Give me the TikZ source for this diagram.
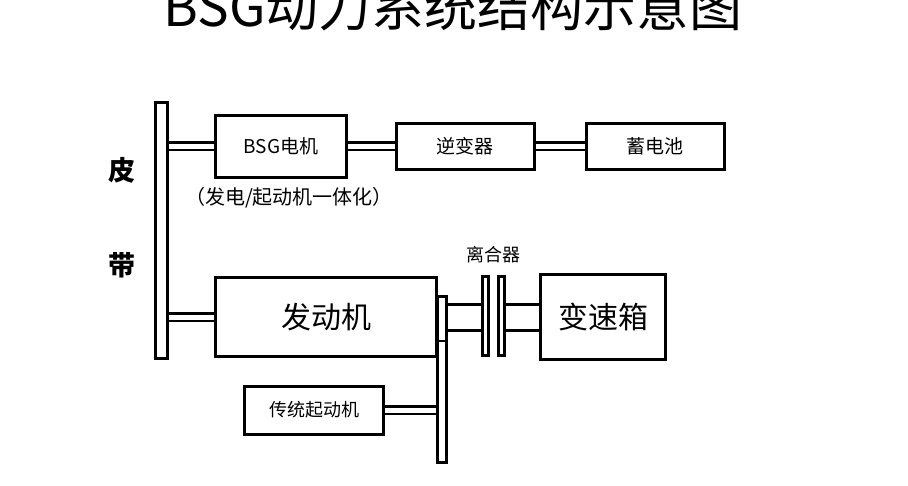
\documentclass[tikz,border=0pt]{standalone}
\usepackage{fontspec}
\setmainfont{Noto Sans CJK SC}
\begin{document}
\begin{tikzpicture}[x=1pt,y=-1pt,
	box/.style = {draw, line width=3pt, inner sep=0pt},
	shaft/.style = {double, double distance=5pt, line width=2.5pt}]
	\useasboundingbox (0,0) rectangle (908,485);
	% title, cut off at the top
	\node[font=\fontsize{53}{53}\selectfont] (title) at (453,6) {BSG动力系统结构示意图};
	\node[box, minimum width=12, minimum height=256] (belt) at (161,230) {};
	\node[font=\fontsize{27}{27}\bfseries] (pi) at (122,170) {皮};
	\node[font=\fontsize{27}{27}\bfseries] (dai) at (122,265) {带};
	\node[box, minimum width=131, minimum height=62, font=\fontsize{19}{19}\selectfont] (bsg) at (281,146) {BSG电机};
	\node[font=\fontsize{20}{20}\selectfont] (sub) at (289,198) {（发电/起动机一体化）};
	\node[box, minimum width=138, minimum height=46, font=\fontsize{19}{19}\selectfont] (inv) at (465,146) {逆变器};
	\node[box, minimum width=138, minimum height=46, font=\fontsize{19}{19}\selectfont] (bat) at (655,146) {蓄电池};
	\node[box, minimum width=221, minimum height=79, font=\fontsize{30}{30}\selectfont] (eng) at (326,317) {发动机};
	\node[box, minimum width=9, minimum height=166] (plate) at (442,379) {};
	\draw[line width=2pt] (plate.west |- 0,341) -- (plate.east |- 0,341);
	\node[box, minimum width=6, minimum height=79] (c1) at (485,316) {};
	\node[box, minimum width=6, minimum height=79] (c2) at (501,316) {};
	\node[font=\fontsize{18}{18}\selectfont] (clutch) at (493,255) {离合器};
	\node[box, minimum width=125, minimum height=85, font=\fontsize{30}{30}\selectfont] (gear) at (603,317) {变速箱};
	\node[box, minimum width=139, minimum height=48, font=\fontsize{18}{18}\selectfont] (start) at (314,410) {传统起动机};
	% shafts
	\draw[shaft] (belt.east |- bsg.east) -- (bsg.west);
	\draw[shaft] (bsg.east |- inv.west) -- (inv.west);
	\draw[shaft] (inv.east) -- (bat.west);
	\draw[shaft] (belt.east |- eng.west) -- (eng.west);
	\draw[shaft] (start.east) -- (plate.west |- start.east);
	\draw[line width=3pt] (plate.east |- 0,304) -- (c1.west |- 0,304)
		(plate.east |- 0,330) -- (c1.west |- 0,330)
		(c2.east |- 0,304) -- (gear.west |- 0,304)
		(c2.east |- 0,330) -- (gear.west |- 0,330);
\end{tikzpicture}
\end{document}
